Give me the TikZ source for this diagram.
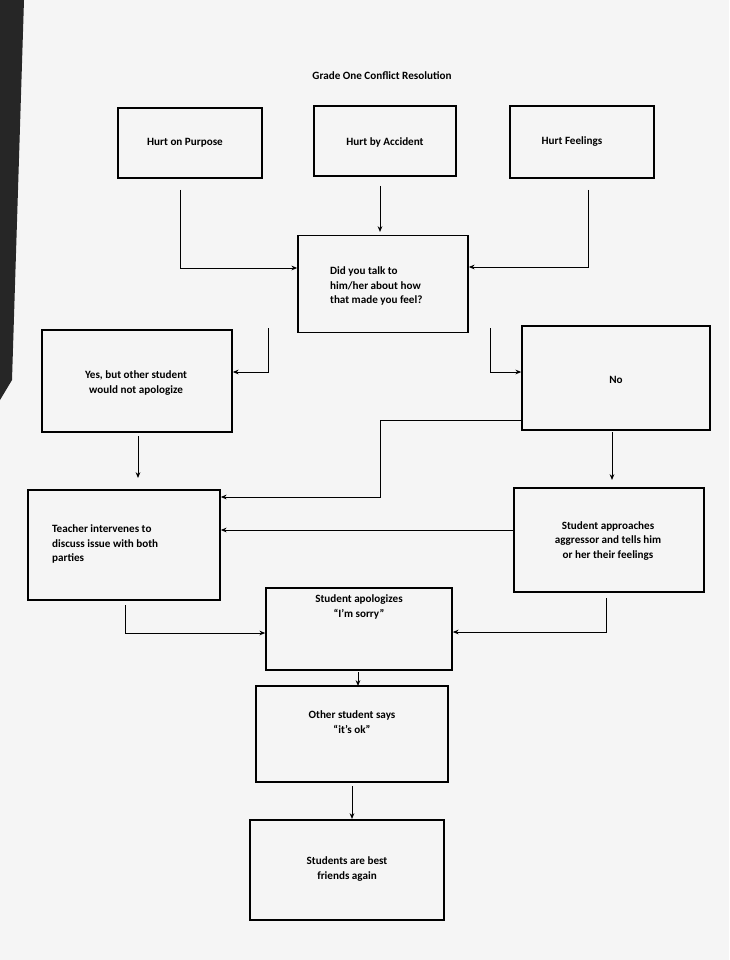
\documentclass[tikz,border=0pt]{standalone}
\usepackage{fontspec}
\setmainfont{Carlito}
\usetikzlibrary{arrows.meta}
\begin{document}
\begin{tikzpicture}[x=0.03cm,y=-0.03cm,
  bx/.style={draw,line width=1.3pt,inner sep=0pt},
  ar/.style={-{Stealth[length=5pt,width=4pt]},line width=0.8pt},
  tx/.style={font=\fontsize{9.5}{12.5}\selectfont\bfseries,align=center}]
\fill[black!4] (0,0) rectangle (729,960);
\useasboundingbox (0,0) rectangle (729,960);
\fill[black!85] (0,0) -- (24,0) -- (12,380) -- (0,400) -- cycle;
\node[tx] (title) at (382,76) {Grade One Conflict Resolution};
\node[bx,minimum width=144*0.03cm,minimum height=70*0.03cm] (hp) at (190,143) {};
\node[tx] at (185,143) {Hurt on Purpose};
\node[bx,minimum width=142*0.03cm,minimum height=70*0.03cm] (ha) at (385,141) {};
\node[tx] at (385,142) {Hurt by Accident};
\node[bx,minimum width=144*0.03cm,minimum height=72*0.03cm] (hf) at (582,142) {};
\node[tx] at (572,142) {Hurt Feelings};
\node[bx,minimum width=170*0.03cm,minimum height=97*0.03cm] (did) at (383,284) {};
\node[tx,align=left,anchor=west] at (326,286) {Did you talk to\\him/her about how\\that made you feel?};
\node[bx,minimum width=190*0.03cm,minimum height=102*0.03cm] (yes) at (137,381) {};
\node[tx] at (136,383) {Yes, but other student\\would not apologize};
\node[bx,minimum width=188*0.03cm,minimum height=104*0.03cm] (no) at (616,378) {};
\node[tx] at (616,380) {No};
\node[bx,minimum width=192*0.03cm,minimum height=110*0.03cm] (tea) at (124,545) {};
\node[tx,align=left,anchor=west] at (48,544) {Teacher intervenes to\\discuss issue with both\\parties};
\node[bx,minimum width=190*0.03cm,minimum height=104*0.03cm] (app) at (609,540) {};
\node[tx] at (608,541) {Student approaches\\aggressor and tells him\\or her their feelings};
\node[bx,minimum width=186*0.03cm,minimum height=82*0.03cm] (apo) at (359,629) {};
\node[tx] at (359,607) {Student apologizes\\“I’m sorry”};
\node[bx,minimum width=192*0.03cm,minimum height=96*0.03cm] (ok) at (352,734) {};
\node[tx] at (352,722) {Other student says\\“it’s ok”};
\node[bx,minimum width=194*0.03cm,minimum height=100*0.03cm] (best) at (347,870) {};
\node[tx] at (347,869) {Students are best\\friends again};
% connectors
\coordinate (c1) at (180,190);
\draw[ar] (c1) |- (did.west|-0,268);
\draw[ar] (380,186) -- (380,232);
\coordinate (c2) at (588,190);
\draw[ar] (c2) |- (did.east|-0,267);
\coordinate (c3) at (268,328);
\draw[ar] (c3) |- (yes.east|-0,372);
\coordinate (c4) at (490,328);
\draw[ar] (c4) |- (no.west|-0,372);
\draw[ar] (no.west|-0,420) -| (380,497) -- (tea.east|-0,497);
\draw[ar] (612,432) -- (612,480);
\draw[ar] (138,436) -- (138,478);
\draw[ar] (app.west|-0,530) -- (tea.east|-0,530);
\coordinate (c5) at (125,605);
\draw[ar] (c5) |- (apo.west|-0,633);
\coordinate (c6) at (606,598);
\draw[ar] (c6) |- (apo.east|-0,632);
\draw[ar] (358,672) -- (358,686);
\draw[ar] (352,786) -- (352,819);
\end{tikzpicture}
\end{document}
